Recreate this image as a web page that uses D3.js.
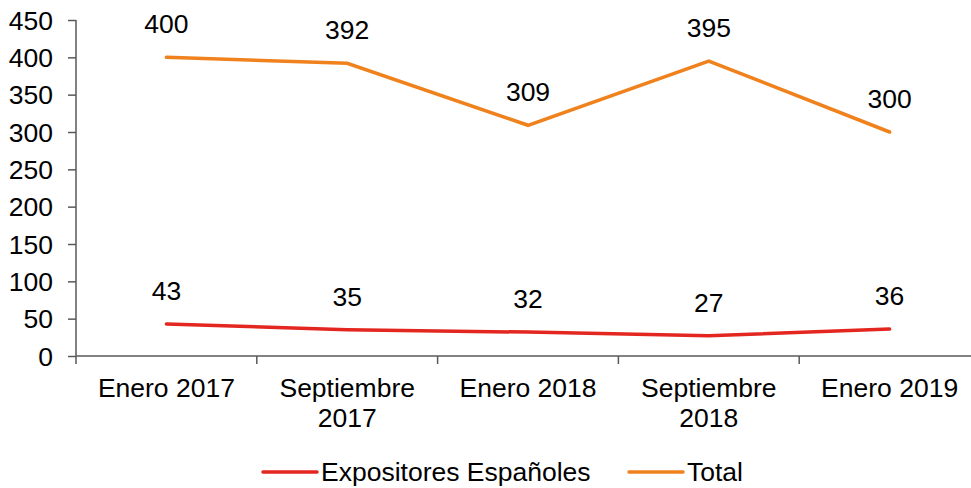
<!DOCTYPE html>
<html>
<head>
<meta charset="utf-8">
<script src="https://cdn.jsdelivr.net/npm/d3@7"></script>
<style>
  body { margin: 0; background: #fff; }
  text { font-family: "Liberation Sans", Arial, sans-serif; fill: #000; }
</style>
</head>
<body>
<div id="chart"></div>
<script>
var categories = [["Enero 2017"], ["Septiembre", "2017"], ["Enero 2018"], ["Septiembre", "2018"], ["Enero 2019"]];
var totalValues = [400, 392, 309, 395, 300];
var espValues = [43, 35, 32, 27, 36];
var yTicks = [0, 50, 100, 150, 200, 250, 300, 350, 400, 450];
var seriesNames = ["Expositores Españoles", "Total"];
var seriesColors = ["#e3261f", "#f0821e"];

var width = 971, height = 488;
var margin = {top: 20, right: -9, bottom: 132, left: 76};
var fs = "26.5px";

var svg = d3.select("#chart").append("svg")
    .attr("width", width)
    .attr("height", height);

var x = d3.scaleBand()
    .domain(d3.range(categories.length))
    .range([margin.left, width - margin.right]);

var y = d3.scaleLinear()
    .domain([0, 450])
    .range([height - margin.bottom, margin.top]);

// y axis
var yAxis = svg.append("g")
    .attr("transform", "translate(" + margin.left + ",0)")
    .call(d3.axisLeft(y).tickValues(yTicks).tickSize(8).tickPadding(15));
yAxis.selectAll("text").style("font-size", fs).attr("dy", "0.35em");
yAxis.select(".domain").attr("stroke", "#595959").attr("stroke-width", 1.5).attr("d", "M0," + y(450) + "V" + y(0));
yAxis.selectAll(".tick line").attr("stroke", "#595959").attr("stroke-width", 1.5);

// x axis with boundary ticks
var xg = svg.append("g").attr("transform", "translate(0," + y(0) + ")");
xg.append("line")
    .attr("x1", margin.left).attr("x2", width - margin.right)
    .attr("stroke", "#595959").attr("stroke-width", 1.5);
xg.selectAll(".bt")
    .data(d3.range(categories.length))
    .enter().append("line")
    .attr("x1", function(d) { return x(d); })
    .attr("x2", function(d) { return x(d); })
    .attr("y1", 0).attr("y2", 8)
    .attr("stroke", "#595959").attr("stroke-width", 1.5);
var xl = xg.selectAll(".lbl")
    .data(categories)
    .enter().append("text")
    .attr("text-anchor", "middle")
    .style("font-size", fs)
    .attr("transform", function(d, i) { return "translate(" + (x(i) + x.bandwidth() / 2) + ",41)"; });
xl.selectAll("tspan")
    .data(function(d) { return d; })
    .enter().append("tspan")
    .attr("x", 0)
    .attr("y", function(d, i) { return i * 30; })
    .text(function(d) { return d; });

var line = d3.line()
    .x(function(d, i) { return x(i) + x.bandwidth() / 2; })
    .y(function(d) { return y(d); });

var series = [espValues, totalValues];
series.forEach(function(vals, s) {
  svg.append("path")
    .datum(vals)
    .attr("fill", "none")
    .attr("stroke", seriesColors[s])
    .attr("stroke-width", 3.5)
    .attr("stroke-linecap", "round")
    .attr("d", line);
  svg.selectAll(".lab" + s)
    .data(vals)
    .enter().append("text")
    .attr("text-anchor", "middle")
    .style("font-size", fs)
    .attr("x", function(d, i) { return x(i) + x.bandwidth() / 2; })
    .attr("y", function(d) { return y(d) - 24; })
    .text(function(d) { return d; });
});

// legend
var legendX = [263, 629];
var legend = svg.selectAll(".leg")
    .data(seriesNames)
    .enter().append("g")
    .attr("transform", function(d, i) { return "translate(" + legendX[i] + ",472)"; });
legend.append("line")
    .attr("x1", 0).attr("x2", 54)
    .attr("stroke", function(d, i) { return seriesColors[i]; })
    .attr("stroke-width", 3.5)
    .attr("stroke-linecap", "round");
legend.append("text")
    .attr("x", 58)
    .attr("dy", "0.35em")
    .style("font-size", fs)
    .text(function(d) { return d; });
</script>
</body>
</html>
